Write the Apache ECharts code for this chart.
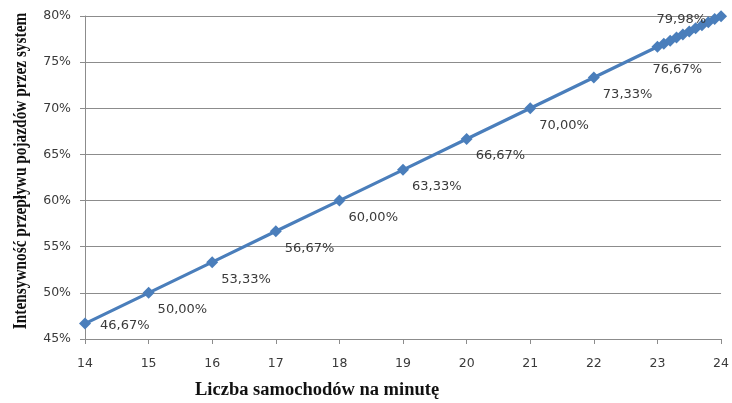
<!DOCTYPE html>
<html>
<head>
<meta charset="utf-8">
<script src="https://cdn.jsdelivr.net/npm/echarts@6/dist/echarts.min.js"></script>
<style>
  html, body { margin: 0; padding: 0; background: #ffffff; }
  #chart { width: 732px; height: 403px; }
</style>
</head>
<body>
<div id="chart"></div>
<script>
// Cars per minute (x) and the share of vehicles passed through the system (y, %)
const carsPerMinute = [14, 15, 16, 17, 18, 19, 20, 21, 22, 23,
  23.1, 23.2, 23.3, 23.4, 23.5, 23.6, 23.7, 23.8, 23.9, 24];
const flowPercent = [46.67, 50.00, 53.33, 56.67, 60.00, 63.33, 66.67, 70.00, 73.33, 76.67,
  77.00, 77.33, 77.67, 78.00, 78.33, 78.67, 79.00, 79.33, 79.67, 79.98];
// Which points carry a value label
const labelled = [true, true, true, true, true, true, true, true, true, true,
  false, false, false, false, false, false, false, false, false, true];

const yTicks = [45, 50, 55, 60, 65, 70, 75, 80];
const xTicks = [14, 15, 16, 17, 18, 19, 20, 21, 22, 23, 24];

const xTitle = 'Liczba samochodów na minutę';
const yTitle = 'Intensywność przepływu pojazdów przez system';

const fmt = v => v.toFixed(2).replace('.', ',') + '%';

// Label shifts (pixels) relative to the default right-hand placement
const defaultShift = { dx: 0, dy: 17 };
const labelShifts = {
  0: { dx: 6, dy: 2 },
  9: { dx: -14, dy: 23 }
};

const seriesData = carsPerMinute.map((x, i) => {
  const item = { value: [x, flowPercent[i]] };
  if (!labelled[i]) {
    item.label = { show: false };
  } else if (i === carsPerMinute.length - 1) {
    item.label = { show: true, position: 'left', distance: 9 };
  }
  return item;
});

const axisGray = '#8c8c8c';
const textGray = '#3a3a3a';
const tickFont = 'DejaVu Sans';

const chart = echarts.init(document.getElementById('chart'), null, { renderer: 'canvas' });
chart.setOption({
  animation: false,
  backgroundColor: '#ffffff',
  grid: { left: 85, right: 8, top: 16, bottom: 64, containLabel: false },
  xAxis: {
    type: 'value',
    min: xTicks[0],
    max: xTicks[xTicks.length - 1],
    interval: 1,
    axisLine: { show: true, lineStyle: { color: axisGray, width: 1 } },
    axisTick: { show: true, length: 5, inside: false, lineStyle: { color: axisGray } },
    axisLabel: { color: textGray, fontFamily: tickFont, fontSize: 12.5, margin: 18 },
    splitLine: { show: false }
  },
  yAxis: {
    type: 'value',
    min: yTicks[0],
    max: yTicks[yTicks.length - 1],
    interval: 5,
    axisLine: { show: true, lineStyle: { color: axisGray, width: 1 } },
    axisTick: { show: true, length: 5, inside: false, lineStyle: { color: axisGray } },
    axisLabel: { color: textGray, fontFamily: tickFont, fontSize: 12.5, margin: 14,
      formatter: v => v + '%' },
    splitLine: { show: true, lineStyle: { color: axisGray, width: 1 } }
  },
  graphic: [
    {
      type: 'text',
      left: 195, top: 381,
      style: { text: xTitle, fill: '#111111',
        font: 'bold 18.5px "Liberation Serif"' }
    },
    {
      type: 'text',
      x: 31, y: 171,
      rotation: Math.PI / 2,
      scaleX: 0.83,
      style: { text: yTitle, fill: '#111111', align: 'center', verticalAlign: 'bottom',
        font: 'bold 18.5px "Liberation Serif"' }
    }
  ],
  series: [{
    type: 'line',
    data: seriesData,
    symbol: 'diamond',
    symbolSize: 12,
    showAllSymbol: true,
    lineStyle: { color: '#4a7ebb', width: 3.2 },
    itemStyle: { color: '#4a7ebb' },
    label: {
      show: true,
      position: 'right',
      distance: 3,
      color: textGray,
      fontFamily: tickFont,
      fontSize: 13,
      formatter: p => fmt(p.value[1])
    },
    labelLayout: p => {
      if (p.dataIndex === carsPerMinute.length - 1) return { dx: 0, dy: 3, hideOverlap: false };
      const s = labelShifts[p.dataIndex] || defaultShift;
      return { dx: s.dx, dy: s.dy, hideOverlap: false };
    }
  }]
});
</script>
</body>
</html>
